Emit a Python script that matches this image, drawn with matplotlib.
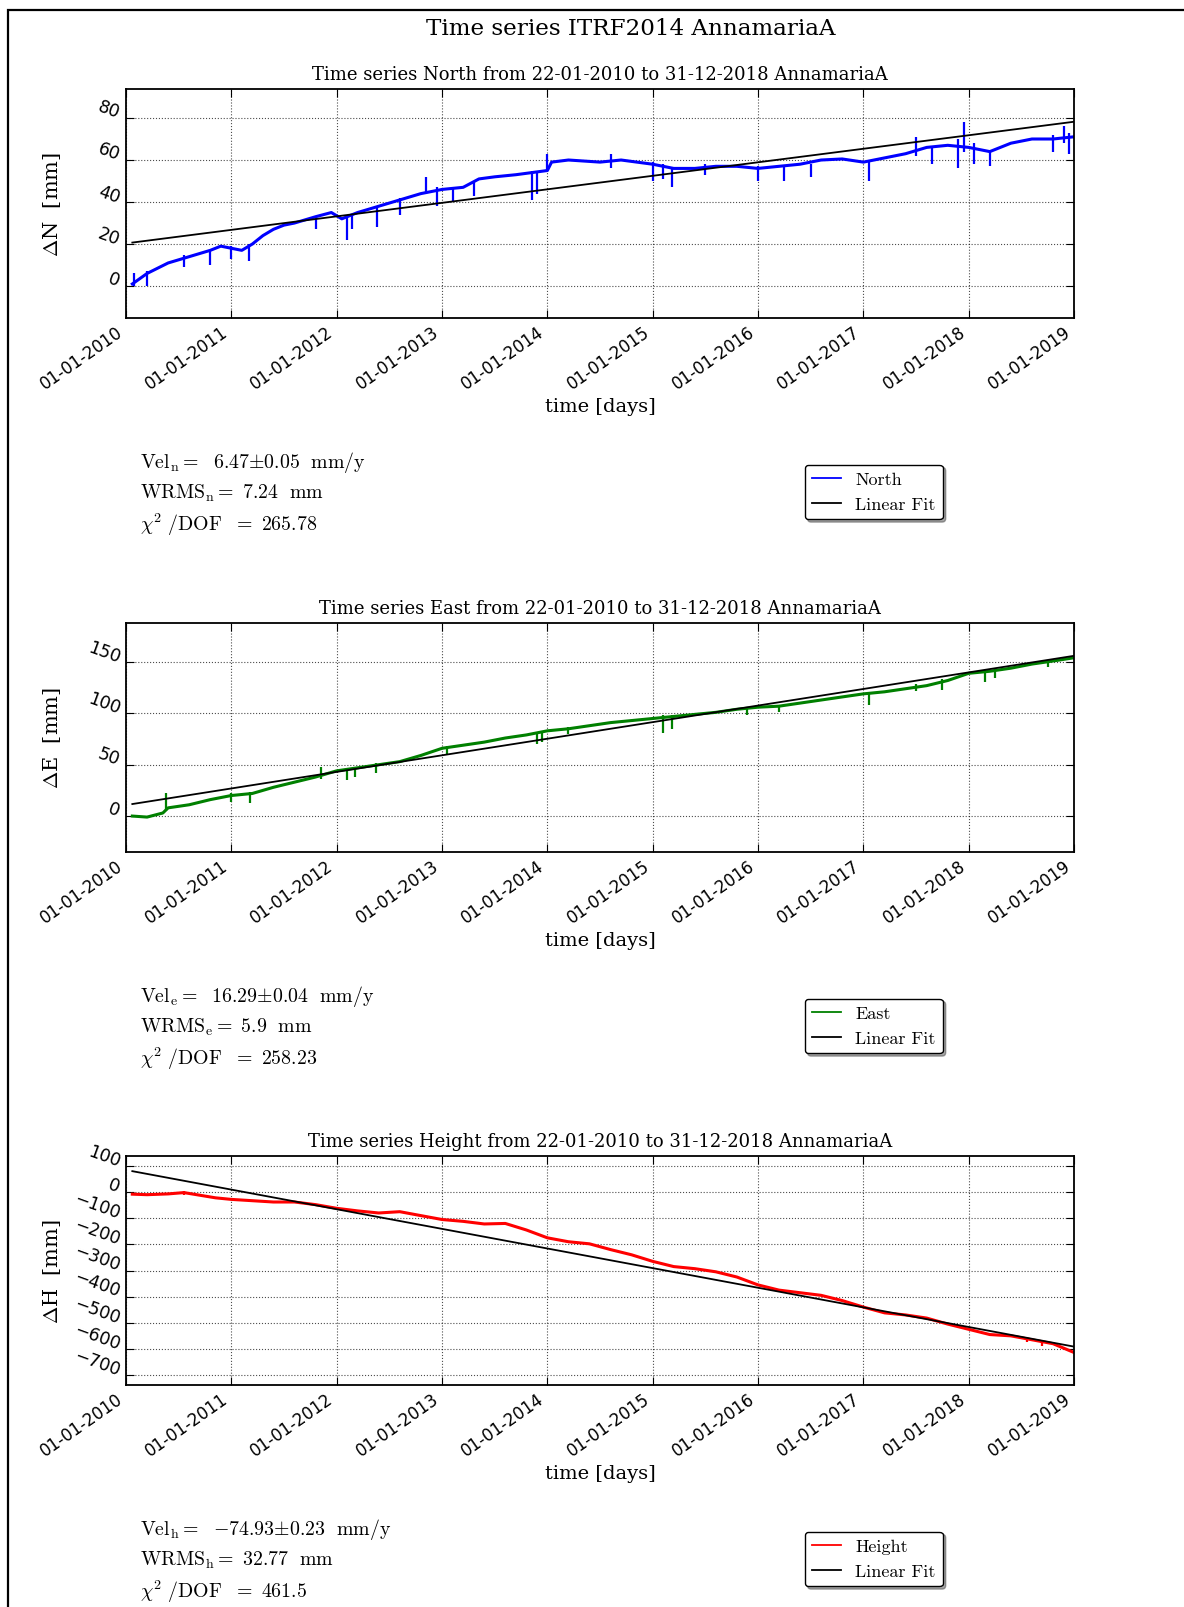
import datetime as dt
import numpy as np
import matplotlib
matplotlib.use("Agg")
import matplotlib.pyplot as plt
import matplotlib.dates as mdates
from matplotlib.patches import Rectangle

plt.rcParams["mathtext.fontset"] = "cm"
plt.rcParams["font.family"] = "DejaVu Sans"

# -------------------------------------------------------------------
# Data (decimal years / mm)
# -------------------------------------------------------------------
station = "AnnamariaA"
period = "from 22-01-2010 to 31-12-2018"

north_t = [2010.06, 2010.2, 2010.4, 2010.6, 2010.8, 2010.9, 2011.0, 2011.1, 2011.2,
           2011.3, 2011.4, 2011.5, 2011.6, 2011.8, 2011.95, 2012.05, 2012.2, 2012.4,
           2012.6, 2012.8, 2013.0, 2013.2, 2013.35, 2013.5, 2013.7, 2013.85, 2014.0,
           2014.04, 2014.2, 2014.5, 2014.7, 2015.0, 2015.2, 2015.4, 2015.6, 2015.8,
           2016.0, 2016.2, 2016.4, 2016.6, 2016.8, 2017.0, 2017.2, 2017.4, 2017.6,
           2017.8, 2018.0, 2018.2, 2018.4, 2018.6, 2018.8, 2018.99]
north_v = [1, 6, 11, 14, 17, 19, 18, 17, 20, 24, 27, 29, 30, 33, 35, 32, 35, 38, 41, 44,
           46, 47, 51, 52, 53, 54, 55, 59, 60, 59, 60, 58, 56, 56, 57, 57, 56, 57, 58, 60,
           60.5, 59, 61, 63, 66, 67, 66, 64, 68, 70, 70, 71]
# spikes: (year, low, high)
north_spk_t = [2010.08, 2010.2, 2010.55, 2010.8, 2011.0, 2011.17, 2011.8, 2012.1, 2012.15,
               2012.38, 2012.6, 2012.85, 2012.95, 2013.1, 2013.3, 2013.85, 2013.9, 2014.0,
               2014.6, 2015.0, 2015.1, 2015.18, 2015.5, 2016.0, 2016.25, 2016.5, 2017.05,
               2017.5, 2017.65, 2017.9, 2017.95, 2018.05, 2018.2, 2018.8, 2018.9, 2018.95]
north_spk_lo = [0, 0, 9, 10, 13, 12, 27, 22, 27, 28, 34, 44, 38, 40, 43, 41, 44, 55, 56, 50,
                51, 47, 53, 50, 50, 52, 50, 62, 58, 56, 64, 58, 57, 64, 68, 63]
north_spk_hi = [6, 7, 15, 17, 19, 20, 33, 34, 34, 37, 42, 52, 47, 47, 50, 55, 54, 63, 63, 59,
                58, 56, 58, 57, 57, 58, 59, 71, 66, 70, 78, 68, 65, 72, 76, 73]

east_t = [2010.06, 2010.2, 2010.35, 2010.4, 2010.6, 2010.8, 2011.0, 2011.2, 2011.4, 2011.6,
          2011.8, 2012.0, 2012.2, 2012.4, 2012.6, 2012.8, 2013.0, 2013.2, 2013.4, 2013.6,
          2013.8, 2014.0, 2014.2, 2014.4, 2014.6, 2014.8, 2015.0, 2015.2, 2015.4, 2015.6,
          2015.8, 2016.0, 2016.2, 2016.4, 2016.6, 2016.8, 2017.0, 2017.2, 2017.4, 2017.6,
          2017.8, 2018.0, 2018.2, 2018.4, 2018.6, 2018.8, 2018.99]
east_v = [0, -1, 3, 8, 11, 16, 20, 22, 28, 33, 38, 44, 47, 50, 53, 59, 66, 69, 72, 76, 79,
          83, 85, 88, 91, 93, 95, 97, 99, 101, 104, 106, 107, 110, 113, 116, 119, 121, 124,
          127, 132, 139, 141, 144, 148, 151, 154]
east_spk_t = [2010.38, 2011.0, 2011.18, 2011.85, 2012.1, 2012.18, 2012.37, 2013.05, 2013.9,
              2013.95, 2014.2, 2015.1, 2015.18, 2015.9, 2016.2, 2017.05, 2017.5, 2017.75,
              2018.15, 2018.25, 2018.75]
east_spk_lo = [5, 14, 13, 36, 35, 38, 42, 60, 70, 72, 80, 81, 85, 98, 101, 108, 122, 123,
               131, 134, 145]
east_spk_hi = [22, 22, 23, 48, 46, 47, 52, 68, 80, 82, 87, 98, 98, 105, 108, 121, 129, 133,
               142, 143, 152]

height_t = [2010.06, 2010.2, 2010.4, 2010.55, 2010.7, 2010.85, 2011.0, 2011.2, 2011.4, 2011.6,
            2011.8, 2012.0, 2012.2, 2012.4, 2012.6, 2012.8, 2013.0, 2013.2, 2013.4, 2013.6,
            2013.8, 2014.0, 2014.2, 2014.4, 2014.6, 2014.8, 2015.0, 2015.2, 2015.4, 2015.6,
            2015.8, 2016.0, 2016.2, 2016.4, 2016.6, 2016.8, 2017.0, 2017.2, 2017.4, 2017.6,
            2017.8, 2018.0, 2018.2, 2018.4, 2018.6, 2018.8, 2018.99]
height_v = [-8, -10, -7, -2, -12, -22, -28, -33, -38, -38, -48, -62, -72, -80, -75, -90,
            -105, -112, -122, -120, -145, -175, -190, -198, -220, -240, -265, -285, -293,
            -305, -325, -355, -375, -385, -395, -415, -440, -462, -470, -482, -505, -525,
            -545, -550, -565, -580, -612]
height_spk_t = [2010.55, 2018.55, 2018.7]
height_spk_lo = [-10, -575, -590]
height_spk_hi = [4, -555, -570]

fit_t = [2010.06, 2018.997]
fit_north = [20.7, 78.2]
fit_east = [11.7, 156.0]
fit_height = [80.0, -591.0]

components = ["North", "East", "Height"]
sub = ["n", "e", "h"]
ylabels = [r"$\Delta$N  [mm]", r"$\Delta$E  [mm]", r"$\Delta$H  [mm]"]
vel = ["6.47", "16.29", "{-}74.93"]
vel_err = ["0.05", "0.04", "0.23"]
wrms = ["7.24", "5.9", "32.77"]
chi2 = ["265.78", "258.23", "461.5"]
yticks = [[0, 20, 40, 60, 80], [0, 50, 100, 150], list(range(-700, 101, 100))]
ylims = [(-15.2, 93.8), (-35, 188), (-738, 138)]
colors = ["#0000ff", "#008000", "#ff0000"]


def yr2dt(y):
    year = int(y)
    return dt.datetime(year, 1, 1) + dt.timedelta(days=(y - year) * 365.25)


def to_dates(lst):
    return [yr2dt(v) for v in lst]


series = [
    (north_t, north_v, north_spk_t, north_spk_lo, north_spk_hi, fit_north),
    (east_t, east_v, east_spk_t, east_spk_lo, east_spk_hi, fit_east),
    (height_t, height_v, height_spk_t, height_spk_lo, height_spk_hi, fit_height),
]

# -------------------------------------------------------------------
# Figure
# -------------------------------------------------------------------
W, H = 1184, 1608
fig = plt.figure(figsize=(W / 100, H / 100), dpi=100)
fig.patches.append(Rectangle((8 / W, -0.1), 1.2, 1.1 - 11 / H, transform=fig.transFigure,
                             fill=False, edgecolor="black", linewidth=1.6))
fig.text(631 / W, 1 - 29 / H, "Time series ITRF2014 " + station, ha="center", va="center",
         family="DejaVu Serif", fontsize=16.6)

ax_left, ax_w, ax_h = 126 / W, 948 / W, 229 / H
bottoms_px = [319, 853, 1386]

for i, (t, v, st, slo, shi, fit) in enumerate(series):
    ax = fig.add_axes([ax_left, 1 - bottoms_px[i] / H, ax_w, ax_h])
    c = colors[i]
    ax.plot(to_dates(t), v, color=c, lw=2.2, label=components[i])
    ax.vlines(to_dates(st), slo, shi, color=c, lw=1.6)
    ax.plot(to_dates(fit_t), fit, color="black", lw=1.3, label="Linear Fit")

    ax.set_xlim(dt.datetime(2010, 1, 1), dt.datetime(2019, 1, 1))
    ax.set_ylim(*ylims[i])
    ax.set_yticks(yticks[i])
    ax.xaxis.set_major_locator(mdates.YearLocator())
    ax.xaxis.set_major_formatter(mdates.DateFormatter("%d-%m-%Y"))
    ax.grid(True, linestyle=":", color="black", lw=0.8, alpha=0.7)
    ax.tick_params(direction="in", top=True, right=True, length=6, labelsize=12)
    ax.tick_params(axis="x", pad=3)
    ax.tick_params(axis="y", pad=6, labelsize=12.5)
    for s in ax.spines.values():
        s.set_linewidth(1.3)
    for lab in ax.get_xticklabels():
        lab.set_rotation(35)
        lab.set_ha("right")
    for lab in ax.get_yticklabels():
        lab.set_rotation(-20)
        lab.set_rotation_mode("anchor")
        lab.set_va("baseline")
        lab.set_ha("right")

    ax.set_title("Time series %s %s %s" % (components[i], period, station),
                 family="DejaVu Serif", fontsize=13, pad=7)
    ax.set_xlabel("time [days]", family="DejaVu Serif", fontsize=14)
    ax.xaxis.set_label_coords(0.5, -0.346)
    ax.set_ylabel(ylabels[i], family="DejaVu Serif", fontsize=15)
    ax.yaxis.set_label_coords(-0.066, 0.5)

    s_ = sub[i]
    lines = [
        r"$\mathrm{Vel_%s =}\ \ %s{\pm}%s\ \ \mathrm{mm/y}$" % (s_, vel[i], vel_err[i]),
        r"$\mathrm{WRMS_%s =}\ %s\ \ \mathrm{mm}$" % (s_, wrms[i]),
        r"$\chi^2\ \mathrm{/DOF}\ \ =\ %s$" % chi2[i],
    ]
    for ypos, txt in zip([-0.625, -0.76, -0.898], lines):
        ax.text(0.015, ypos, txt, transform=ax.transAxes, fontsize=14.3, va="center")

    leg = ax.legend(loc="upper left", bbox_to_anchor=(0.716, -0.64), borderaxespad=0,
                    fancybox=True, shadow=True, prop={"family": "cmr10", "size": 13},
                    handlelength=1.6, framealpha=1)
    leg.get_frame().set_edgecolor("black")
    leg.get_frame().set_linewidth(1.0)
    for h in leg.get_lines():
        h.set_linewidth(1.3)

fig.savefig("out.png", dpi=100, facecolor="white")
